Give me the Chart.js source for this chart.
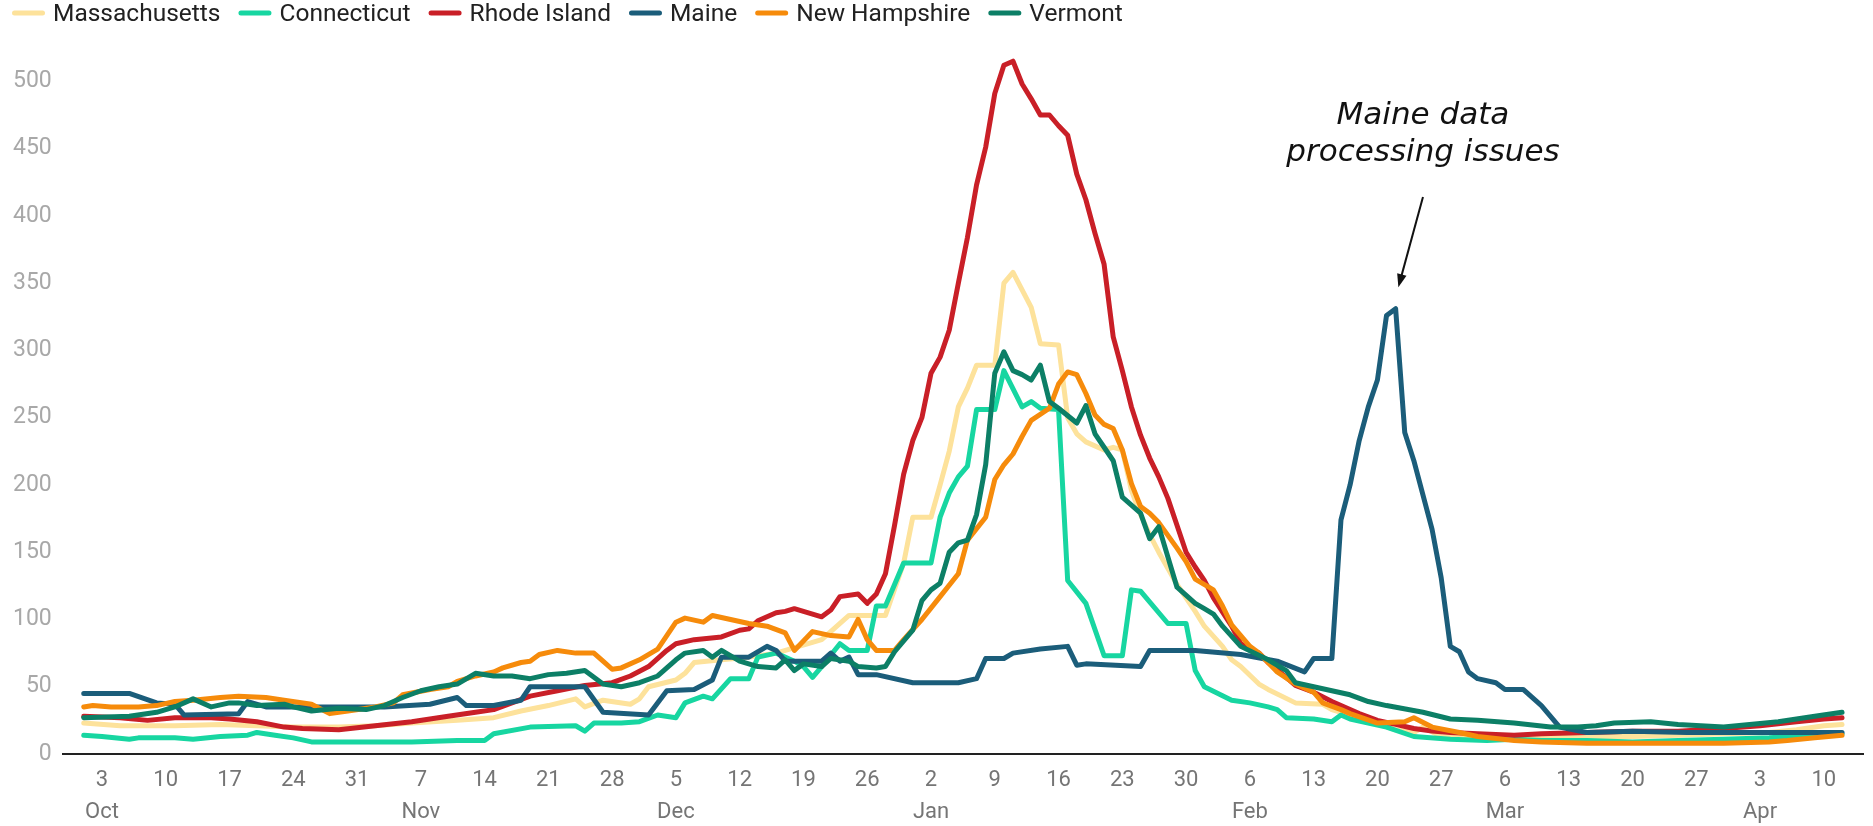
<!DOCTYPE html>
<html>
<head>
<meta charset="utf-8">
<title>New England daily cases</title>
<script src="https://cdn.jsdelivr.net/npm/chart.js@4.4.1/dist/chart.umd.min.js"></script>
<style>
  html, body { margin: 0; padding: 0; background: #fff; }
  #wrap { width: 1873px; height: 826px; }
</style>
</head>
<body>
<div id="wrap"><canvas id="chart" width="1873" height="826"></canvas></div>
<script>
// day numbers count from 1 Oct 2021
const startDate = Date.UTC(2021, 9, 1);
const monthNames = ['Jan', 'Feb', 'Mar', 'Apr', 'May', 'Jun', 'Jul', 'Aug', 'Sep', 'Oct', 'Nov', 'Dec'];
const states = ['Massachusetts', 'Connecticut', 'Rhode Island', 'Maine', 'New Hampshire', 'Vermont'];

const massachusetts = [[0,23],[4,21],[10,21],[15,22],[19,21],[23,20],[28,20],[32,21],[36,23],[41,25],[43,26],[45,27],[48,32],[51,36],[54,41],[55,35],[57,40],[60,37],[61,41],[62,50],[65,55],[66,60],[67,68],[70,70],[73,72],[76,75],[81,85],[84,103],[88,103],[90,142],[91,176],[93,176],[94,200],[95,225],[96,258],[97,272],[98,289],[100,289],[101,350],[102,358],[104,332],[105,305],[107,304],[108,250],[109,238],[110,232],[112,226],[113,228],[114,226],[115,196],[116,178],[117,163],[118,150],[120,126],[122,106],[123,95],[125,80],[126,70],[127,65],[129,52],[130,48],[133,38],[136,37],[137,33],[139,29],[142,23],[144,18],[146,16],[147,20],[149,13],[152,12],[156,11],[160,12],[165,13],[170,13],[175,14],[180,15],[185,16],[188,18],[191,21],[193,22]];

const connecticut = [[0,14],[2,13],[5,11],[6,12],[10,12],[12,11],[15,13],[18,14],[19,16],[21,14],[23,12],[25,9],[28,9],[32,9],[36,9],[41,10],[44,10],[45,15],[49,20],[54,21],[55,17],[56,23],[59,23],[61,24],[63,29],[65,27],[66,38],[68,43],[69,41],[71,56],[73,56],[74,72],[76,75],[78,69],[79,65],[80,57],[81,65],[83,82],[84,77],[86,77],[87,110],[88,110],[90,142],[93,142],[94,176],[95,194],[96,206],[97,214],[98,256],[100,256],[101,285],[103,258],[104,262],[105,257],[107,256],[108,129],[110,112],[112,73],[114,73],[115,122],[116,121],[119,97],[121,97],[122,62],[123,50],[126,40],[128,38],[130,35],[131,33],[132,27],[135,26],[137,24],[138,29],[139,26],[143,20],[146,13],[150,11],[154,10],[157,11],[160,10],[165,10],[170,9],[175,10],[180,11],[185,12],[190,14],[193,15]];

const rhodeIsland = [[0,28],[4,27],[7,25],[10,27],[14,27],[16,26],[19,24],[22,20],[24,19],[28,18],[32,21],[36,24],[40,28],[43,31],[45,33],[49,43],[52,47],[55,51],[58,53],[60,58],[62,65],[64,77],[65,82],[67,85],[70,87],[72,92],[73,93],[74,99],[76,105],[77,106],[78,108],[80,104],[81,102],[82,107],[83,117],[85,119],[86,112],[87,119],[88,134],[89,170],[90,208],[91,233],[92,250],[93,283],[94,295],[95,315],[96,350],[97,384],[98,423],[99,451],[100,491],[101,512],[102,515],[103,498],[104,487],[105,475],[106,475],[107,467],[108,460],[109,431],[110,412],[111,387],[112,364],[113,310],[114,285],[115,258],[116,237],[117,220],[118,206],[119,190],[120,170],[121,150],[122,139],[123,129],[124,116],[126,95],[127,82],[128,78],[129,75],[130,68],[132,57],[133,51],[135,46],[137,39],[139,33],[140,30],[142,25],[144,22],[146,19],[148,17],[150,16],[153,15],[157,14],[160,15],[165,16],[170,17],[175,17],[180,19],[184,21],[188,24],[191,26],[193,27]];

const maine = [[0,45],[5,45],[8,38],[10,37],[11,29],[17,30],[18,39],[20,35],[33,35],[38,37],[41,42],[42,36],[45,36],[48,40],[49,50],[55,50],[57,31],[62,29],[64,47],[67,48],[69,55],[70,72],[73,72],[75,80],[76,77],[77,69],[81,69],[82,75],[83,69],[84,72],[85,59],[87,59],[91,53],[96,53],[98,56],[99,71],[101,71],[102,75],[105,78],[108,80],[109,66],[110,67],[116,65],[117,77],[122,77],[127,74],[131,69],[134,61],[135,71],[137,71],[138,174],[139,200],[140,233],[141,258],[142,278],[143,326],[144,331],[145,239],[146,218],[148,167],[149,131],[150,80],[151,76],[152,61],[153,56],[155,53],[156,48],[158,48],[160,36],[162,20],[165,16],[170,17],[176,16],[182,16],[188,16],[193,16]];

const newHampshire = [[0,35],[1,36],[3,35],[6,35],[8,36],[10,39],[12,40],[15,42],[17,43],[20,42],[22,40],[25,37],[27,30],[29,32],[32,35],[34,38],[35,44],[38,48],[40,50],[41,54],[43,58],[45,61],[46,64],[48,68],[49,69],[50,74],[52,77],[54,75],[56,75],[57,69],[58,63],[59,64],[61,70],[63,78],[64,88],[65,98],[66,101],[68,98],[69,103],[71,100],[73,97],[75,95],[77,90],[78,77],[80,91],[82,88],[84,87],[85,100],[86,85],[87,77],[89,77],[90,85],[92,100],[94,117],[96,134],[97,159],[99,176],[100,204],[101,215],[102,223],[103,236],[104,248],[106,257],[107,275],[108,284],[109,282],[110,268],[111,252],[112,245],[113,242],[114,226],[115,201],[116,184],[117,179],[118,172],[120,153],[121,143],[122,130],[124,122],[125,110],[126,96],[128,80],[129,75],[131,61],[133,52],[135,46],[136,38],[138,33],[139,30],[142,23],[145,24],[146,27],[148,20],[151,16],[153,13],[157,10],[160,9],[165,8],[170,8],[175,8],[180,8],[185,9],[187,10],[190,12],[193,14]];

const vermont = [[0,27],[5,28],[8,31],[10,35],[12,41],[14,35],[16,38],[17,38],[19,36],[22,37],[23,35],[25,32],[28,34],[31,33],[33,36],[35,42],[37,47],[39,50],[41,52],[43,60],[45,58],[47,58],[49,56],[51,59],[53,60],[55,62],[57,52],[59,50],[61,53],[63,58],[65,70],[66,75],[68,77],[69,72],[70,77],[72,69],[74,65],[76,64],[77,70],[78,62],[79,67],[81,65],[82,71],[84,69],[85,65],[87,64],[88,65],[89,76],[91,92],[92,114],[93,122],[94,127],[95,150],[96,157],[97,159],[98,178],[99,215],[100,283],[101,299],[102,285],[103,282],[104,278],[105,289],[106,262],[107,257],[109,246],[110,259],[111,238],[112,228],[113,218],[114,191],[116,179],[117,160],[118,169],[120,124],[122,112],[123,108],[124,104],[125,95],[127,80],[130,70],[132,62],[133,53],[135,50],[137,47],[139,44],[141,39],[143,36],[147,31],[150,26],[153,25],[157,23],[161,20],[164,20],[166,21],[168,23],[172,24],[175,22],[180,20],[186,24],[190,28],[193,31]];

const seriesData = [massachusetts, connecticut, rhodeIsland, maine, newHampshire, vermont];
const colors = ['#fde29b', '#17d6a1', '#c91f27', '#1b5d7a', '#f68b0b', '#0c7f66'];

// note next to the Maine spike, placed in data units (day, value)
const noteLines = ['Maine data', 'processing issues'];
const noteAt = { day: 147, values: [468, 441] };
const noteArrow = { from: [147, 414], to: [144.3, 347] };

// the axis shows every Sunday, starting with 3 Oct
const tickDays = [];
for (let d = 2; d <= 191; d += 7) tickDays.push(d);

function dayLabel(day) {
    const dt = new Date(startDate + day * 86400000);
    const dom = dt.getUTCDate();
    return dom <= 7 ? [String(dom), monthNames[dt.getUTCMonth()]] : String(dom);
}

const topLegend = {
    id: 'topLegend',
    afterDraw(chart) {
        const ctx = chart.ctx;
        ctx.save();
        ctx.font = '24.5px Roboto';
        ctx.textBaseline = 'middle';
        ctx.lineCap = 'round';
        ctx.lineWidth = 5;
        let x = 12;
        chart.data.datasets.forEach(ds => {
            ctx.strokeStyle = ds.borderColor;
            ctx.beginPath();
            ctx.moveTo(x + 2.5, 13);
            ctx.lineTo(x + 30.5, 13);
            ctx.stroke();
            x += 41;
            ctx.fillStyle = '#212121';
            ctx.fillText(ds.label, x, 15);
            x += ctx.measureText(ds.label).width + 18;
        });
        ctx.restore();
    }
};

const spikeNote = {
    id: 'spikeNote',
    afterDatasetsDraw(chart) {
        const ctx = chart.ctx;
        const xs = chart.scales.x, ys = chart.scales.y;
        ctx.save();
        ctx.fillStyle = '#111';
        ctx.font = 'italic 31px "DejaVu Sans"';
        ctx.textAlign = 'center';
        ctx.textBaseline = 'alphabetic';
        noteLines.forEach((line, i) => {
            ctx.fillText(line, xs.getPixelForValue(noteAt.day), ys.getPixelForValue(noteAt.values[i]));
        });

        const x0 = xs.getPixelForValue(noteArrow.from[0]), y0 = ys.getPixelForValue(noteArrow.from[1]);
        const x1 = xs.getPixelForValue(noteArrow.to[0]), y1 = ys.getPixelForValue(noteArrow.to[1]);
        const ang = Math.atan2(y1 - y0, x1 - x0);
        const head = 14;
        ctx.strokeStyle = '#111';
        ctx.lineWidth = 2;
        ctx.beginPath();
        ctx.moveTo(x0, y0);
        ctx.lineTo(x1 - Math.cos(ang) * head * 0.8, y1 - Math.sin(ang) * head * 0.8);
        ctx.stroke();
        ctx.beginPath();
        ctx.moveTo(x1, y1);
        ctx.lineTo(x1 - head * Math.cos(ang - 0.35), y1 - head * Math.sin(ang - 0.35));
        ctx.lineTo(x1 - head * Math.cos(ang + 0.35), y1 - head * Math.sin(ang + 0.35));
        ctx.closePath();
        ctx.fill();
        ctx.restore();
    }
};

const ctx = document.getElementById('chart');

new Chart(ctx, {
    type: 'line',
    data: {
        datasets: states.map((name, i) => ({
            label: name,
            data: seriesData[i].map(p => ({ x: p[0], y: p[1] })),
            borderColor: colors[i],
            backgroundColor: colors[i],
            borderWidth: 5,
            pointRadius: 0,
            tension: 0,
            borderJoinStyle: 'round',
            borderCapStyle: 'round',
            order: states.length - i
        }))
    },
    options: {
        responsive: false,
        animation: false,
        devicePixelRatio: 1,
        // the x axis reserves its tick padding twice, so the bottom pad is pulled back
        layout: { padding: { left: 2, right: 10, top: 41, bottom: -13 } },
        plugins: {
            legend: { display: false },
            tooltip: { enabled: false }
        },
        scales: {
            x: {
                type: 'linear',
                min: -2.3,
                max: 195.3,
                border: { display: true, color: '#222', width: 2 },
                grid: { display: false, drawTicks: false },
                afterBuildTicks: scale => {
                    scale.ticks = tickDays.map(v => ({ value: v }));
                },
                ticks: {
                    autoSkip: false,
                    maxRotation: 0,
                    color: '#757575',
                    padding: 10.5,
                    font: { family: 'Roboto', size: 22, lineHeight: 32 / 22 },
                    callback: v => dayLabel(v)
                }
            },
            y: {
                min: 0,
                max: 530,
                border: { display: false },
                grid: { display: false, drawTicks: false },
                ticks: {
                    stepSize: 50,
                    includeBounds: false,
                    color: '#a8a8a8',
                    padding: 11,
                    font: { family: 'Roboto', size: 23 }
                }
            }
        }
    },
    plugins: [topLegend, spikeNote]
});
</script>
</body>
</html>
